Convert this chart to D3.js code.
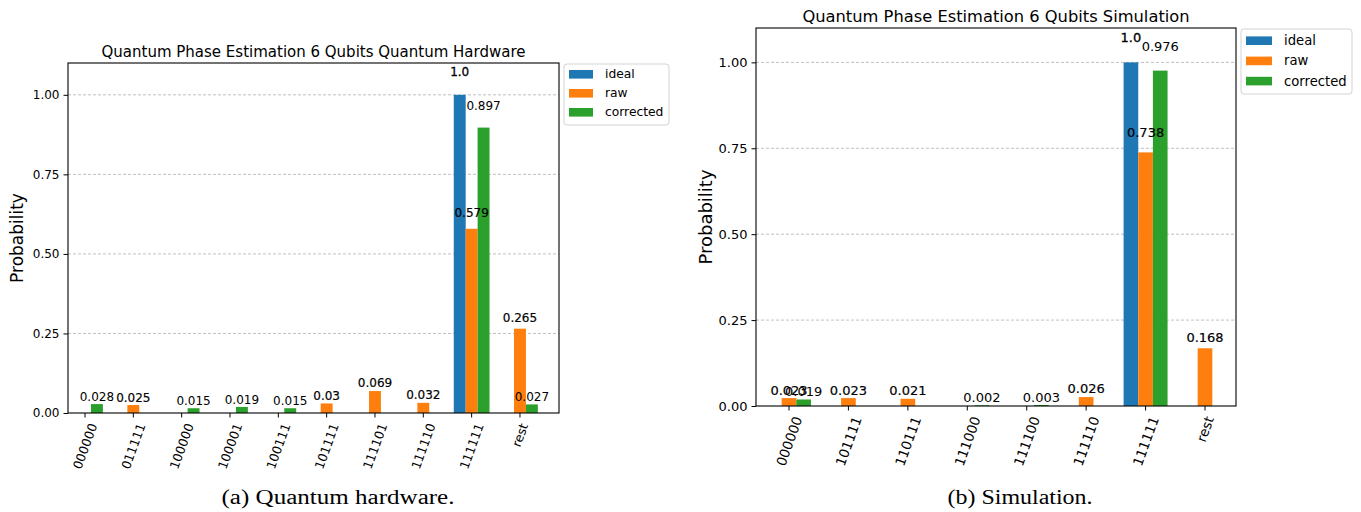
<!DOCTYPE html>
<html><head><meta charset="utf-8">
<script src="https://cdn.jsdelivr.net/npm/d3@7"></script>
<style>
body{margin:0;background:#fff;}
text{font-family:"DejaVu Sans",sans-serif;}
text.cap{font-family:"Liberation Serif","DejaVu Serif",serif;}
</style></head><body>
<svg id="c" width="1361" height="512"></svg>
<script>
const hwCategories = ["000000","011111","100000","100001","100111","101111","111101","111110","111111","rest"];
const hwIdeal = [0,0,0,0,0,0,0,0,1.0,0];
const hwRaw = [0,0.025,0,0,0,0.03,0.069,0.032,0.579,0.265];
const hwCorrected = [0.028,0,0.015,0.019,0.015,0,0,0,0.897,0.027];
const simCategories = ["000000","101111","110111","111000","111100","111110","111111","rest"];
const simIdeal = [0,0,0,0,0,0,1.0,0];
const simRaw = [0.023,0.023,0.021,0,0,0.026,0.738,0.168];
const simCorrected = [0.019,0,0,0.002,0.003,0,0.976,0];
const seriesNames = ["ideal","raw","corrected"];
const seriesColors = ["#1f77b4","#ff7f0e","#2ca02c"];
const yTickValues = [0,0.25,0.5,0.75,1.0];
const titles = ["Quantum Phase Estimation 6 Qubits Quantum Hardware","Quantum Phase Estimation 6 Qubits Simulation"];
const captions = ["(a) Quantum hardware.","(b) Simulation."];
const yLabel = "Probability";

const svg = d3.select("#c");
svg.append("rect").attr("width",1361).attr("height",512).attr("fill","#fff");

const panels = [
 {cats:hwCategories, series:[hwIdeal,hwRaw,hwCorrected], title:titles[0], caption:captions[0],
  left:68, right:559, top:63, bottom:413, c0:85, step:48.33, fs:12, xfs:12.5, vfs:12, titleFs:15, labFs:17, labX:17,
  legend:{x:564,y:64,w:105,h:61,first:10.3,row:19,pw:24,tx:41,fs:12.3}, capX:338, capW:233},
 {cats:simCategories, series:[simIdeal,simRaw,simCorrected], title:titles[1], caption:captions[1],
  left:756, right:1236, top:28, bottom:406, c0:789, step:59.43, fs:13, xfs:13.5, vfs:13, titleFs:16.3, labFs:18, labX:705,
  legend:{x:1241,y:29,w:111,h:65,first:11.7,row:20.2,pw:26,tx:43,fs:13.2}, capX:1020, capW:145}
];

const fmt = v => Number.isInteger(v) ? v.toFixed(1) : String(v);
const rad = 70*Math.PI/180;

panels.forEach(p=>{
  const g = svg.append("g");
  const n = p.cats.length;
  const x = d3.scaleBand().domain(p.cats).range([p.c0 - p.step/2, p.c0 - p.step/2 + n*p.step]).padding(0);
  const xs = d3.scaleBand().domain(seriesNames).range([-0.37*p.step, 0.37*p.step]);
  const y = d3.scaleLinear().domain([0,1.1]).range([p.bottom,p.top]);
  const cx = c => x(c) + x.bandwidth()/2;

  // grid
  g.selectAll(".grid").data(yTickValues.filter(v=>v>0)).join("line")
    .attr("x1",p.left).attr("x2",p.right).attr("y1",d=>y(d)).attr("y2",d=>y(d))
    .attr("stroke","#b0b0b0").attr("stroke-width",0.8).attr("stroke-dasharray","3,2");

  // bars
  seriesNames.forEach((s,si)=>{
    const data = p.cats.map((c,i)=>({c, v:p.series[si][i]}));
    g.append("g").selectAll("rect").data(data).join("rect")
      .attr("x",d=>cx(d.c)+xs(s)).attr("width",xs.bandwidth())
      .attr("y",d=>y(d.v)).attr("height",d=>y(0)-y(d.v))
      .attr("fill",seriesColors[si]);
  });

  // value labels
  seriesNames.forEach((s,si)=>{
    const data = p.cats.map((c,i)=>({c, v:p.series[si][i]})).filter(d=>d.v>0);
    g.append("g").selectAll("text").data(data).join("text")
      .attr("x",d=>cx(d.c)+xs(s)+xs.bandwidth()/2)
      .attr("y",d=>y(d.v*1.05)-p.vfs*0.24)
      .attr("text-anchor","middle").attr("font-size",p.vfs).attr("fill","#000")
      .attr("stroke", si<2 ? "#000" : "none").attr("stroke-width", si===0 ? 0.3 : 0.18)
      .text(d=>fmt(d.v));
  });

  // frame
  g.append("rect").attr("x",p.left).attr("y",p.top).attr("width",p.right-p.left).attr("height",p.bottom-p.top)
    .attr("fill","none").attr("stroke","#000").attr("stroke-width",1.1);

  // x axis
  const xa = g.append("g").attr("transform",`translate(0,${p.bottom})`)
    .call(d3.axisBottom(x).tickSize(4.5).tickSizeOuter(0));
  xa.select(".domain").remove();
  xa.attr("font-size",p.xfs);
  xa.selectAll(".tick line").attr("stroke-width",1);
  xa.selectAll(".tick text").attr("y",null).attr("dy",null)
    .attr("text-anchor","middle").attr("dominant-baseline","central")
    .attr("transform",function(){
      const w = this.getComputedTextLength();
      const h = p.xfs*1.05;
      const bh = w*Math.sin(rad) + h*Math.cos(rad);
      return `translate(0,${8.5+bh/2}) rotate(-70)`;
    });

  // y axis
  const ya = g.append("g").attr("transform",`translate(${p.left},0)`)
    .call(d3.axisLeft(y).tickValues(yTickValues).tickFormat(d3.format(".2f")).tickSize(4.5).tickPadding(4));
  ya.select(".domain").remove();
  ya.attr("font-size",p.fs);

  // y label
  g.append("text").attr("transform",`translate(${p.labX},${(p.top+p.bottom)/2}) rotate(-90)`)
    .attr("text-anchor","middle").attr("dominant-baseline","central").attr("font-size",p.labFs).text(yLabel);

  // title
  g.append("text").attr("x",(p.left+p.right)/2).attr("y",p.top-6)
    .attr("text-anchor","middle").attr("font-size",p.titleFs).text(p.title);

  // legend
  const L = p.legend;
  const lg = g.append("g").attr("transform",`translate(${L.x},${L.y})`);
  lg.append("rect").attr("width",L.w).attr("height",L.h).attr("rx",3)
    .attr("fill","#fff").attr("stroke","#d3d3d3").attr("stroke-width",1);
  seriesNames.forEach((s,si)=>{
    const cy = L.first + si*L.row;
    lg.append("rect").attr("x",5).attr("y",cy-4.3).attr("width",L.pw).attr("height",8.6).attr("fill",seriesColors[si]);
    lg.append("text").attr("x",L.tx).attr("y",cy).attr("dominant-baseline","central")
      .attr("font-size",L.fs).text(s);
  });

  // caption
  svg.append("text").attr("class","cap").attr("x",p.capX).attr("y",504).attr("text-anchor","middle")
    .attr("font-size",20)
    .attr("textLength",p.capW).attr("lengthAdjust","spacingAndGlyphs").text(p.caption);
});
</script>
</body></html>
